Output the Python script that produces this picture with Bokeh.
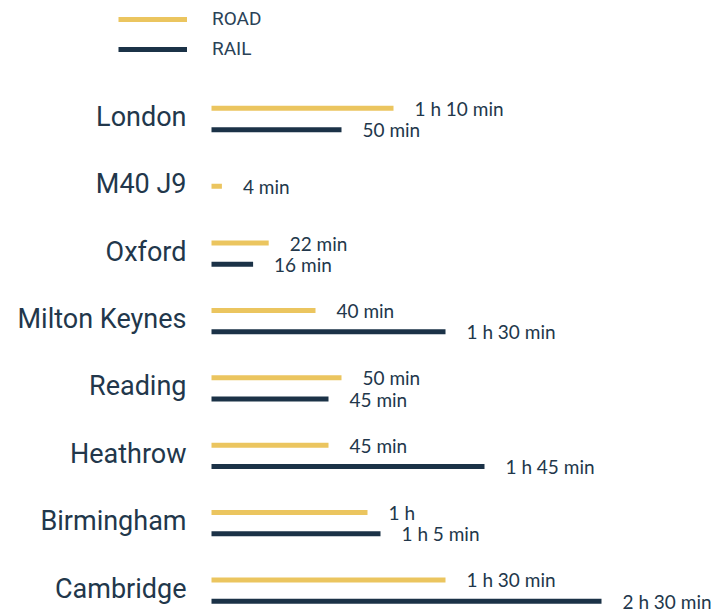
import pandas as pd
from bokeh.plotting import figure
from bokeh.models import ColumnDataSource, Range1d, Legend, LegendItem
from bokeh.core.properties import value
from bokeh.embed import file_html
from bokeh.resources import INLINE

# ---- data (minutes) ----
places = ["London", "M40 J9", "Oxford", "Milton Keynes", "Reading",
          "Heathrow", "Birmingham", "Cambridge"]
road_min = [70, 4, 22, 40, 50, 45, 60, 90]
rail_min = [50, None, 16, 90, 45, 105, 65, 150]

ROAD_COLOR = "#EBC55F"
RAIL_COLOR = "#1B3247"
TEXT_COLOR = "#22374B"


def fmt(m):
    h, mm = divmod(int(m), 60)
    if h and mm:
        return f"{h} h {mm} min"
    if h:
        return f"{h} h"
    return f"{mm} min"


DODGE = 0.158

rows = []
for i, (pl, rd, rl) in enumerate(zip(places, road_min, rail_min)):
    has_rail = rl is not None
    rows.append(dict(kind="road", row=i, y=i - (DODGE if has_rail else 0),
                     v=rd, label=fmt(rd)))
    if has_rail:
        rows.append(dict(kind="rail", row=i, y=i + DODGE, v=rl, label=fmt(rl)))
df = pd.DataFrame(rows)
df["x0"] = 0
road_src = ColumnDataSource(df[df.kind == "road"])
rail_src = ColumnDataSource(df[df.kind == "rail"])
cat_src = ColumnDataSource(dict(y=list(range(len(places))), x=[0] * len(places),
                                name=places))

W, H = 715, 614
p = figure(width=W, height=H, output_backend="svg", toolbar_location=None,
           x_range=Range1d(-211 / 2.6, (W - 211) / 2.6),
           y_range=Range1d((H - 118.5) / 67.36, -118.5 / 67.36),
           min_border=0, outline_line_color=None)
p.axis.visible = False
p.grid.visible = False
p.background_fill_color = "white"
p.border_fill_color = "white"

r_road = p.segment(x0="x0", x1="v", y0="y", y1="y", source=road_src,
                   line_color=ROAD_COLOR, line_width=5, line_cap="butt")
r_rail = p.segment(x0="x0", x1="v", y0="y", y1="y", source=rail_src,
                   line_color=RAIL_COLOR, line_width=5, line_cap="butt")

for src in (road_src, rail_src):
    p.text(x="v", y="y", text="label", source=src, x_offset=21, y_offset=0,
           text_font=value("Lato"), text_font_size="19px",
           text_color=TEXT_COLOR, text_baseline="middle", text_align="left")

p.text(x="x", y="y", text="name", source=cat_src, x_offset=-25, y_offset=-2,
       text_font=value("Roboto"), text_font_size="27px",
       text_color=TEXT_COLOR, text_baseline="middle", text_align="right")

legend = Legend(items=[LegendItem(label="ROAD", renderers=[r_road]),
                       LegendItem(label="RAIL", renderers=[r_rail])],
                location=(118, H - 60), orientation="vertical",
                glyph_width=69, glyph_height=20, label_height=20,
                spacing=7, padding=0, margin=0, label_standoff=25,
                label_text_font="Roboto", label_text_font_size="19px",
                label_text_color="#2A4257", border_line_color=None,
                background_fill_alpha=0)
p.add_layout(legend)

open("out.html", "w").write(file_html(p, INLINE))
